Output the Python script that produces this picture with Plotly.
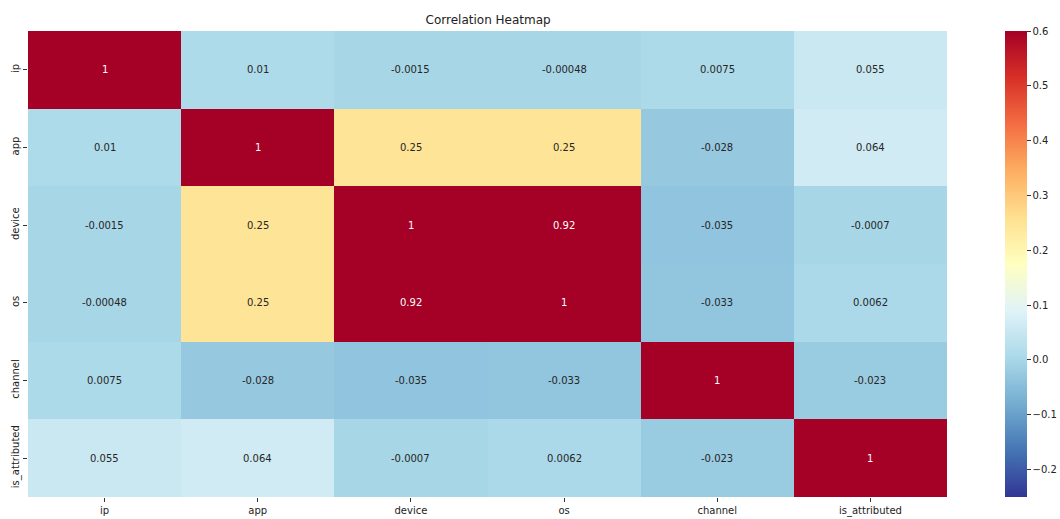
import plotly.graph_objects as go

# Feature names and pairwise correlation matrix
features = ["ip", "app", "device", "os", "channel", "is_attributed"]
corr_ip = [1, 0.01, -0.0015, -0.00048, 0.0075, 0.055]
corr_app = [0.01, 1, 0.25, 0.25, -0.028, 0.064]
corr_device = [-0.0015, 0.25, 1, 0.92, -0.035, -0.0007]
corr_os = [-0.00048, 0.25, 0.92, 1, -0.033, 0.0062]
corr_channel = [0.0075, -0.028, -0.035, -0.033, 1, -0.023]
corr_attr = [0.055, 0.064, -0.0007, 0.0062, -0.023, 1]
matrix = [corr_ip, corr_app, corr_device, corr_os, corr_channel, corr_attr]

colorbar_ticks = [-0.2, -0.1, 0.0, 0.1, 0.2, 0.3, 0.4, 0.5, 0.6]
zmin, zmax = -0.25, 0.6

# RdYlBu reversed (ColorBrewer 11-class)
rdylbu = ["#a50026", "#d73027", "#f46d43", "#fdae61", "#fee090", "#ffffbf",
          "#e0f3f8", "#abd9e9", "#74add1", "#4575b4", "#313695"]
colorscale = [[i / (len(rdylbu) - 1), c] for i, c in enumerate(reversed(rdylbu))]

font = "DejaVu Sans, Verdana, sans-serif"

fig = go.Figure(go.Heatmap(
    z=matrix,
    x=features,
    y=features,
    zmin=zmin,
    zmax=zmax,
    colorscale=colorscale,
    showscale=True,
    colorbar=dict(
        x=1.0631, xanchor="left", xref="paper", xpad=0, ypad=0,
        y=0, yanchor="bottom", len=1, lenmode="fraction",
        thickness=22, outlinewidth=0,
        tickvals=colorbar_ticks, tickformat=".1f",
        ticks="outside", ticklen=4, tickcolor="#333",
        tickfont=dict(family=font, size=10, color="#222"),
    ),
    hoverongaps=False,
))

# Value labels in each cell (white on the strongest correlations)
annotations = []
for i, row in enumerate(matrix):
    for j, v in enumerate(row):
        annotations.append(dict(
            x=features[j], y=features[i], text="{:.2g}".format(v),
            showarrow=False,
            font=dict(family=font, size=10, color="white" if v > 0.5 else "#262626"),
        ))

fig.update_layout(
    width=1060, height=519,
    margin=dict(l=28, r=113, t=31, b=22, autoexpand=False),
    paper_bgcolor="white", plot_bgcolor="white",
    title=dict(text="Correlation Heatmap", x=0.4605, xanchor="center",
               y=0.962, yanchor="middle",
               font=dict(family=font, size=12, color="#222")),
    annotations=annotations,
    xaxis=dict(showgrid=False, zeroline=False, ticks="outside", ticklen=4,
               tickcolor="#333", tickfont=dict(family=font, size=10, color="#222"),
               constrain="domain"),
    yaxis=dict(showgrid=False, zeroline=False, ticks="outside", ticklen=4,
               tickcolor="#333", tickangle=-90, autorange="reversed",
               tickfont=dict(family=font, size=10, color="#222")),
)

fig.write_html("out.html")
